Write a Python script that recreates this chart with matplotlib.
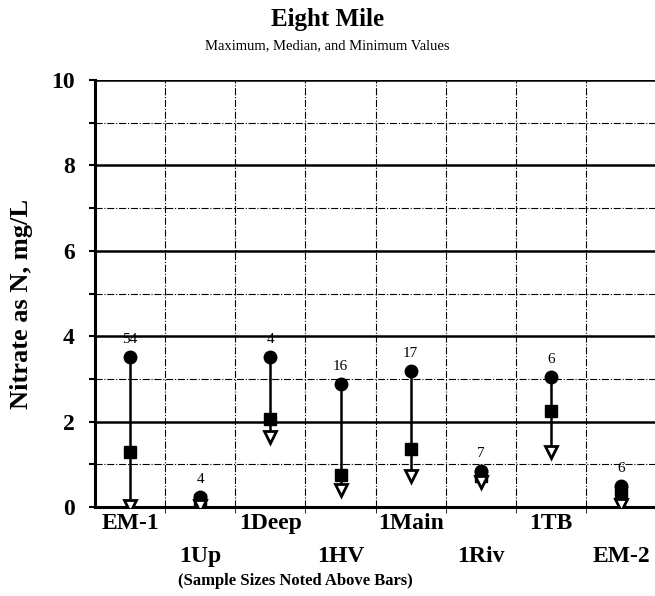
import matplotlib.pyplot as plt
import numpy as np

plt.rcParams['font.family'] = ['Liberation Serif', 'DejaVu Serif']

sites = ['EM-1', '1Up', '1Deep', '1HV', '1Main', '1Riv', '1TB', 'EM-2']
max_vals = [3.51, 0.24, 3.51, 2.88, 3.19, 0.84, 3.04, 0.50]
med_vals = [1.29, 0.16, 2.06, 0.75, 1.37, 0.72, 2.24, 0.36]
min_vals = [0.02, 0.02, 1.65, 0.40, 0.74, 0.58, 1.28, 0.04]
n_samples = [54, 4, 4, 16, 17, 7, 6, 6]

fig = plt.figure(figsize=(6.55, 5.96), dpi=100)
ax = fig.add_axes([0.145, 0.149, 0.857, 0.717])

x = np.arange(len(sites))

# grid: solid at even values, dash-dot at odd
for yv in [2, 4, 6, 8, 10]:
    ax.axhline(yv, color='black', lw=1.8, zorder=1)
for yv in [1, 3, 5, 7, 9]:
    ax.axhline(yv, color='black', lw=0.8, ls='-.', zorder=1)
for xv in x[:-1] + 0.5:
    ax.axvline(xv, color='black', lw=0.8, ls='-.', zorder=1)

ax.vlines(x, min_vals, max_vals, color='black', lw=1.8, zorder=2)
ax.plot(x, max_vals, 'o', color='black', ms=9, zorder=3)
ax.plot(x, med_vals, 's', color='black', ms=9, zorder=4)
ax.plot(x, min_vals, 'v', mfc='white', mec='black', mew=2, ms=9, zorder=5)

for xi, yi, n in zip(x, max_vals, n_samples):
    ax.annotate(str(n), (xi, yi), xytext=(0, 8), textcoords='offset points',
                ha='center', va='bottom', fontsize=11)

ax.set_xlim(-0.5, 7.5)
ax.set_ylim(0, 10)
ax.set_yticks([0, 2, 4, 6, 8, 10])
ax.set_yticks([1, 3, 5, 7, 9], minor=True)
ax.set_yticklabels(['0', '2', '4', '6', '8', '10'], fontsize=17, fontweight='bold')
ax.set_xticks(x)
ax.set_xticks(x[:-1] + 0.5, minor=True)
labels = [s if i % 2 == 0 else '\n' + s for i, s in enumerate(sites)]
ax.set_xticklabels(labels, fontsize=17, fontweight='bold', linespacing=1.75)
ax.tick_params(axis='x', which='major', length=0, pad=4)
ax.tick_params(axis='x', which='minor', length=4, direction='out')
ax.tick_params(axis='y', which='both', length=4, direction='out', width=1.5, pad=10.5)

for side in ['top', 'right']:
    ax.spines[side].set_visible(False)
ax.spines['left'].set_linewidth(2.2)
ax.spines['bottom'].set_linewidth(2.2)

ax.set_ylabel('Nitrate as N, mg/L', fontsize=19, fontweight='bold')
ax.yaxis.set_label_coords(-0.11, 0.475)
ax.set_xlabel('(Sample Sizes Noted Above Bars)', fontsize=12, fontweight='bold')
ax.xaxis.set_label_coords(0.357, -0.153)

fig.text(0.5, 0.968, 'Eight Mile', ha='center', va='center', fontsize=18, fontweight='bold')
fig.text(0.5, 0.924, 'Maximum, Median, and Minimum Values', ha='center', va='center', fontsize=10.5)

fig.savefig('out.png', dpi=100)
